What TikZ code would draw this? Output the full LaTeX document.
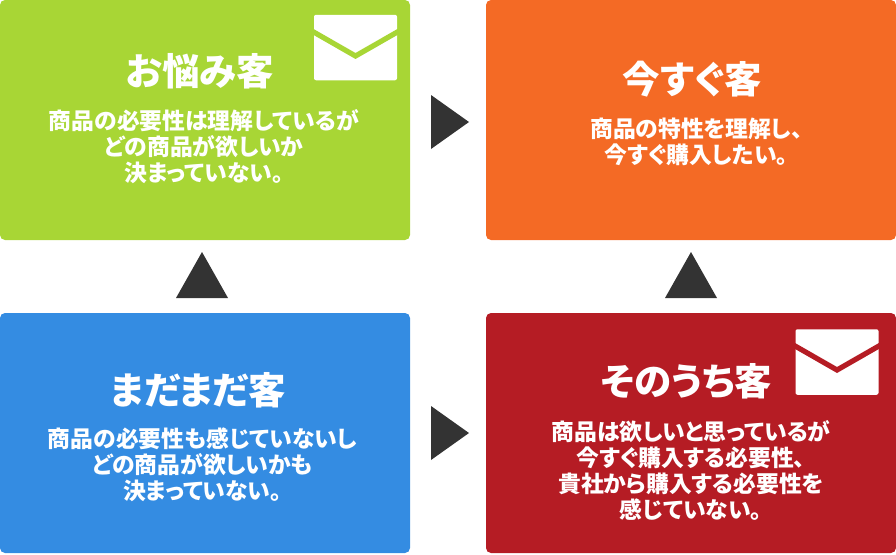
\documentclass[tikz,border=0pt]{standalone}
\usepackage{fontspec}
\setmainfont{Noto Sans CJK JP}[RawFeature=+palt]
\usetikzlibrary{calc}
\definecolor{GLime}{HTML}{a8d635}
\definecolor{OTangerine}{HTML}{f46a25}
\definecolor{BAzure}{HTML}{348ce2}
\definecolor{RCrimson}{HTML}{b51c24}
\definecolor{DGraphite}{HTML}{333333}
\tikzset{
    block/.style = {rectangle, rounded corners=5,
        minimum height=240,
        minimum width=410, inner sep=0},
    mail/.style = {rectangle, fill=white, rounded corners=2,
        minimum height=65.5,
        minimum width=83, inner sep=0},
    flap/.style = {line width=5.2, miter limit=10},
    marker/.style = {fill=DGraphite},
    title/.style = {text=white, inner sep=0, font=\fontsize{37.5}{38}\selectfont\bfseries},
    body/.style = {text=white, inner sep=0, align=center, font=\fontsize{22.8}{26}\selectfont\bfseries}
}
\begin{document}
\begin{tikzpicture}[x=1pt,y=-1pt]
    \useasboundingbox (0,0) rectangle (896,554);
    \node [block,fill=GLime] (nayami) at (205,120) {};
    \node [block,fill=OTangerine] (imasugu) at (691,120) {};
    \node [block,fill=BAzure] (madamada) at (205,433) {};
    \node [block,fill=RCrimson] (sonouchi) at (691,433) {};
    % envelopes
    \node [mail] (mailA) at (355.5,47.5) {};
    \draw [GLime,flap] (311,30.5) -- (355.5,56) -- (400,30.5);
    \node [mail] (mailB) at (837,362) {};
    \draw [RCrimson,flap] (792.5,344.5) -- (837,370) -- (881.5,344.5);
    % triangles
    \fill [marker] (431,95) -- (469,122) -- (431,149) -- cycle;
    \fill [marker] (431,406) -- (469,433) -- (431,460) -- cycle;
    \fill [marker] (176,298) -- (202,252) -- (228,298) -- cycle;
    \fill [marker] (665,298) -- (691,252) -- (717,298) -- cycle;
    % texts
    \node [title] (nayamiT) at (200,71) {お悩み客};
    \node [body] (nayamiB) at (204,147) {商品の必要性は理解しているが\\どの商品が欲しいか\\決まっていない。};
    \node [title] (imasuguT) at (692,79) {今すぐ客};
    \node [body] (imasuguB) at (696.5,142) {商品の特性を理解し、\\今すぐ購入したい。};
    \node [title] (madamadaT) at (198,390) {まだまだ客};
    \node [body] (madamadaB) at (202.5,465) {商品の必要性も感じていないし\\どの商品が欲しいかも\\決まっていない。};
    \node [title] (sonouchiT) at (686.5,381) {そのうち客};
    \node [body] (sonouchiB) at (691,470) {商品は欲しいと思っているが\\今すぐ購入する必要性、\\貴社から購入する必要性を\\感じていない。};
\end{tikzpicture}
\end{document}
